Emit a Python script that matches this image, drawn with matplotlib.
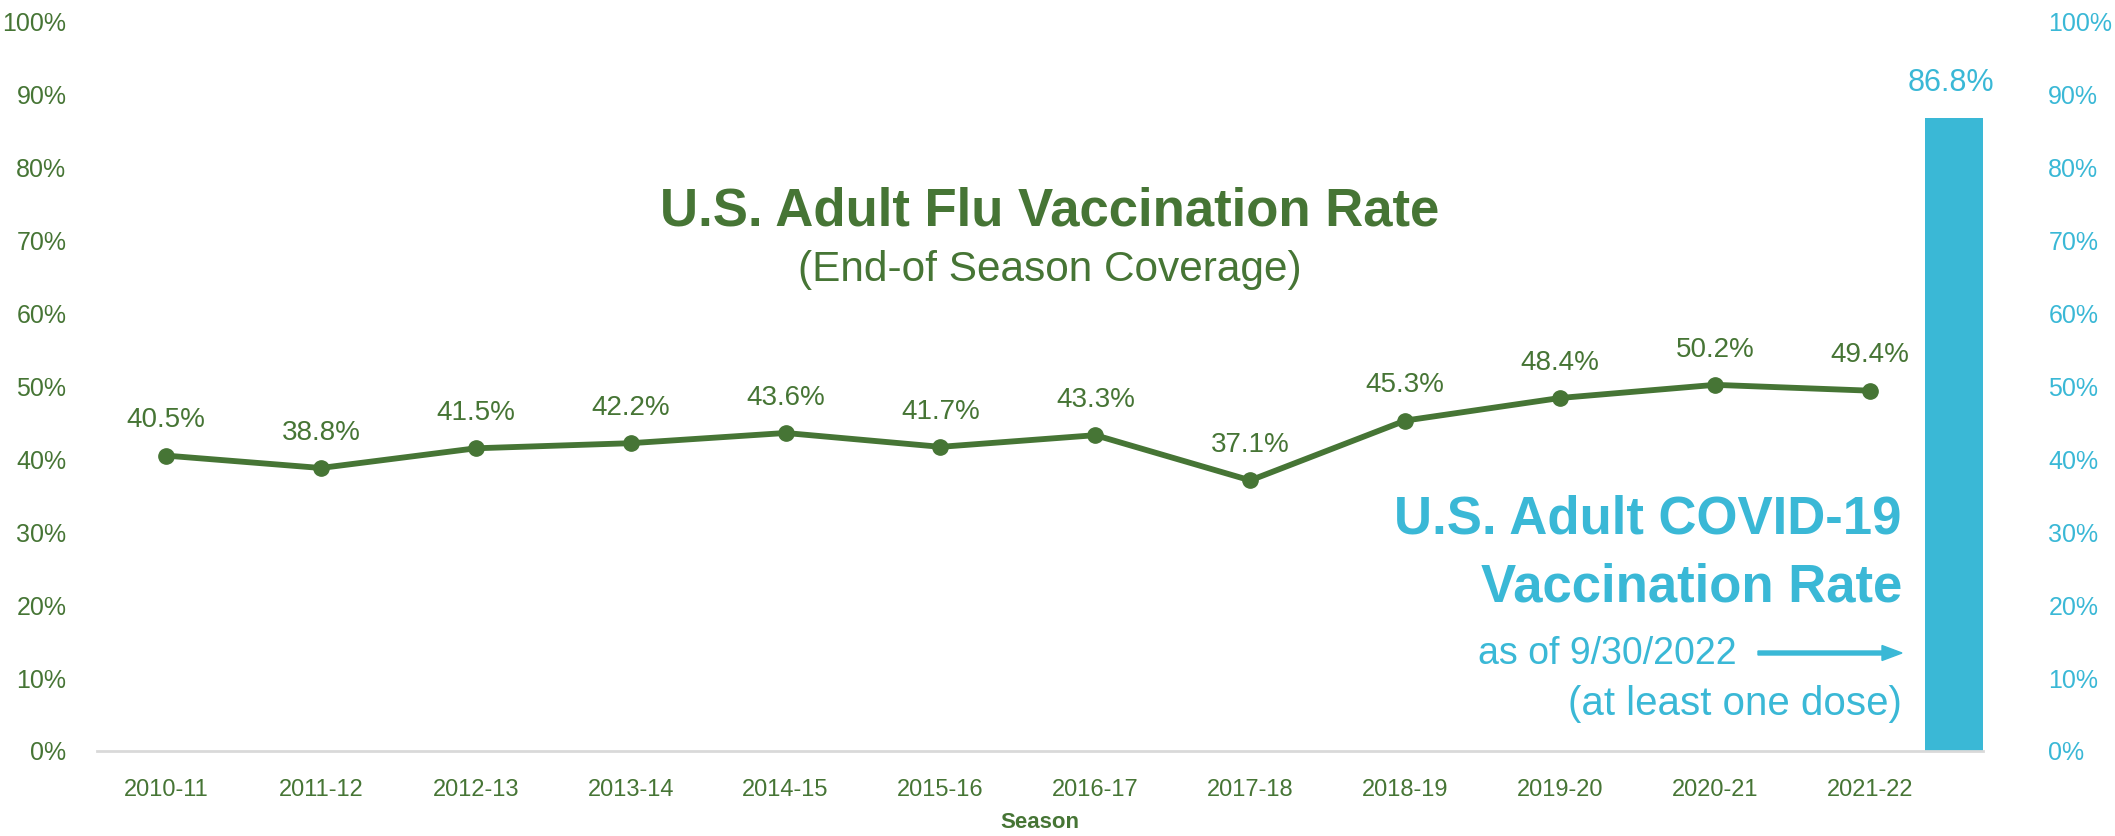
import matplotlib
matplotlib.use('Agg')
import matplotlib.pyplot as plt
from matplotlib import font_manager

# data
seasons = ['2010-11', '2011-12', '2012-13', '2013-14', '2014-15', '2015-16',
           '2016-17', '2017-18', '2018-19', '2019-20', '2020-21', '2021-22']
flu_rate = [40.5, 38.8, 41.5, 42.2, 43.6, 41.7, 43.3, 37.1, 45.3, 48.4, 50.2, 49.4]
covid_rate = 86.8
y_ticks = [0, 10, 20, 30, 40, 50, 60, 70, 80, 90, 100]

green = '#467535'
blue = '#3AB8D6'

names = {f.name for f in font_manager.fontManager.ttflist}
narrow = 'Liberation Sans Narrow' if 'Liberation Sans Narrow' in names else 'Liberation Sans'
plt.rcParams['font.family'] = ['Liberation Sans', 'DejaVu Sans']

W, H = 2115, 836
fig = plt.figure(figsize=(W / 100, H / 100), dpi=100)
ax = fig.add_axes([97 / W, 1 - 751 / H, (1983 - 97) / W, (751 - 21.6) / H])

x = list(range(len(seasons)))
ax.plot(x, flu_rate, color=green, lw=4.2, marker='o', ms=11, zorder=3)
for xi, v in zip(x, flu_rate):
    ax.annotate(f'{v:.1f}%', (xi, v), xytext=(0, 16), textcoords='offset points',
                ha='center', va='bottom', fontsize=20, color=green)

# covid bar sits just right of last season
bx = 11.54
ax.bar([bx], [covid_rate], width=0.375, color=blue, zorder=2)
ax.annotate(f'{covid_rate:.1f}%', (bx, covid_rate), xytext=(-2, 14), textcoords='offset points',
            ha='center', va='bottom', fontsize=22, color=blue)

ax.set_xlim(-0.445, 11.73)
ax.set_ylim(0, 100)
ax.set_xticks(x)
ax.set_xticklabels(seasons, family=narrow, fontsize=17, color=green)
ax.set_yticks(y_ticks)
ax.set_yticklabels([f'{t}%' for t in y_ticks], fontsize=18, color=green)
ax.tick_params(axis='x', length=0, pad=20)
ax.tick_params(axis='y', length=0, pad=22)
for s in ['top', 'right', 'left']:
    ax.spines[s].set_visible(False)
ax.spines['bottom'].set_color('#D9D9D9')
ax.spines['bottom'].set_linewidth(2)

ax2 = ax.twinx()
ax2.set_ylim(0, 100)
ax2.set_yticks(y_ticks)
ax2.set_yticklabels([f'{t}%' for t in y_ticks], fontsize=18, color=blue)
ax2.tick_params(axis='y', length=0, pad=47)
for s in ax2.spines.values():
    s.set_visible(False)

# axis title
fig.text(1040 / W, 1 - 822 / H, 'Season', family=narrow, fontweight='bold',
         fontsize=16, color=green, ha='center', va='center')

# flu title
fig.text(1050 / W, 1 - 212 / H, 'U.S. Adult Flu Vaccination Rate', family=narrow,
         fontweight='bold', fontsize=38, color=green, ha='center', va='center')
fig.text(1050 / W, 1 - 270 / H, '(End-of Season Coverage)', family=narrow,
         fontsize=30.5, color=green, ha='center', va='center')

# covid text
fig.text(1902 / W, 1 - 519 / H, 'U.S. Adult COVID-19', family=narrow,
         fontweight='bold', fontsize=38, color=blue, ha='right', va='center')
fig.text(1902 / W, 1 - 587 / H, 'Vaccination Rate', family=narrow,
         fontweight='bold', fontsize=38, color=blue, ha='right', va='center')
fig.text(1737 / W, 1 - 654 / H, 'as of 9/30/2022', family=narrow,
         fontsize=27, color=blue, ha='right', va='center')
fig.text(1902 / W, 1 - 704 / H, '(at least one dose)', family=narrow,
         fontsize=29, color=blue, ha='right', va='center')
fig.patches.append(matplotlib.patches.FancyArrow(
    1758 / W, 1 - 653 / H, (1902 - 1758) / W, 0, width=4 / H, head_width=15 / H,
    head_length=20 / W, length_includes_head=True, color=blue, transform=fig.transFigure))

fig.savefig('out.png', dpi=100)
